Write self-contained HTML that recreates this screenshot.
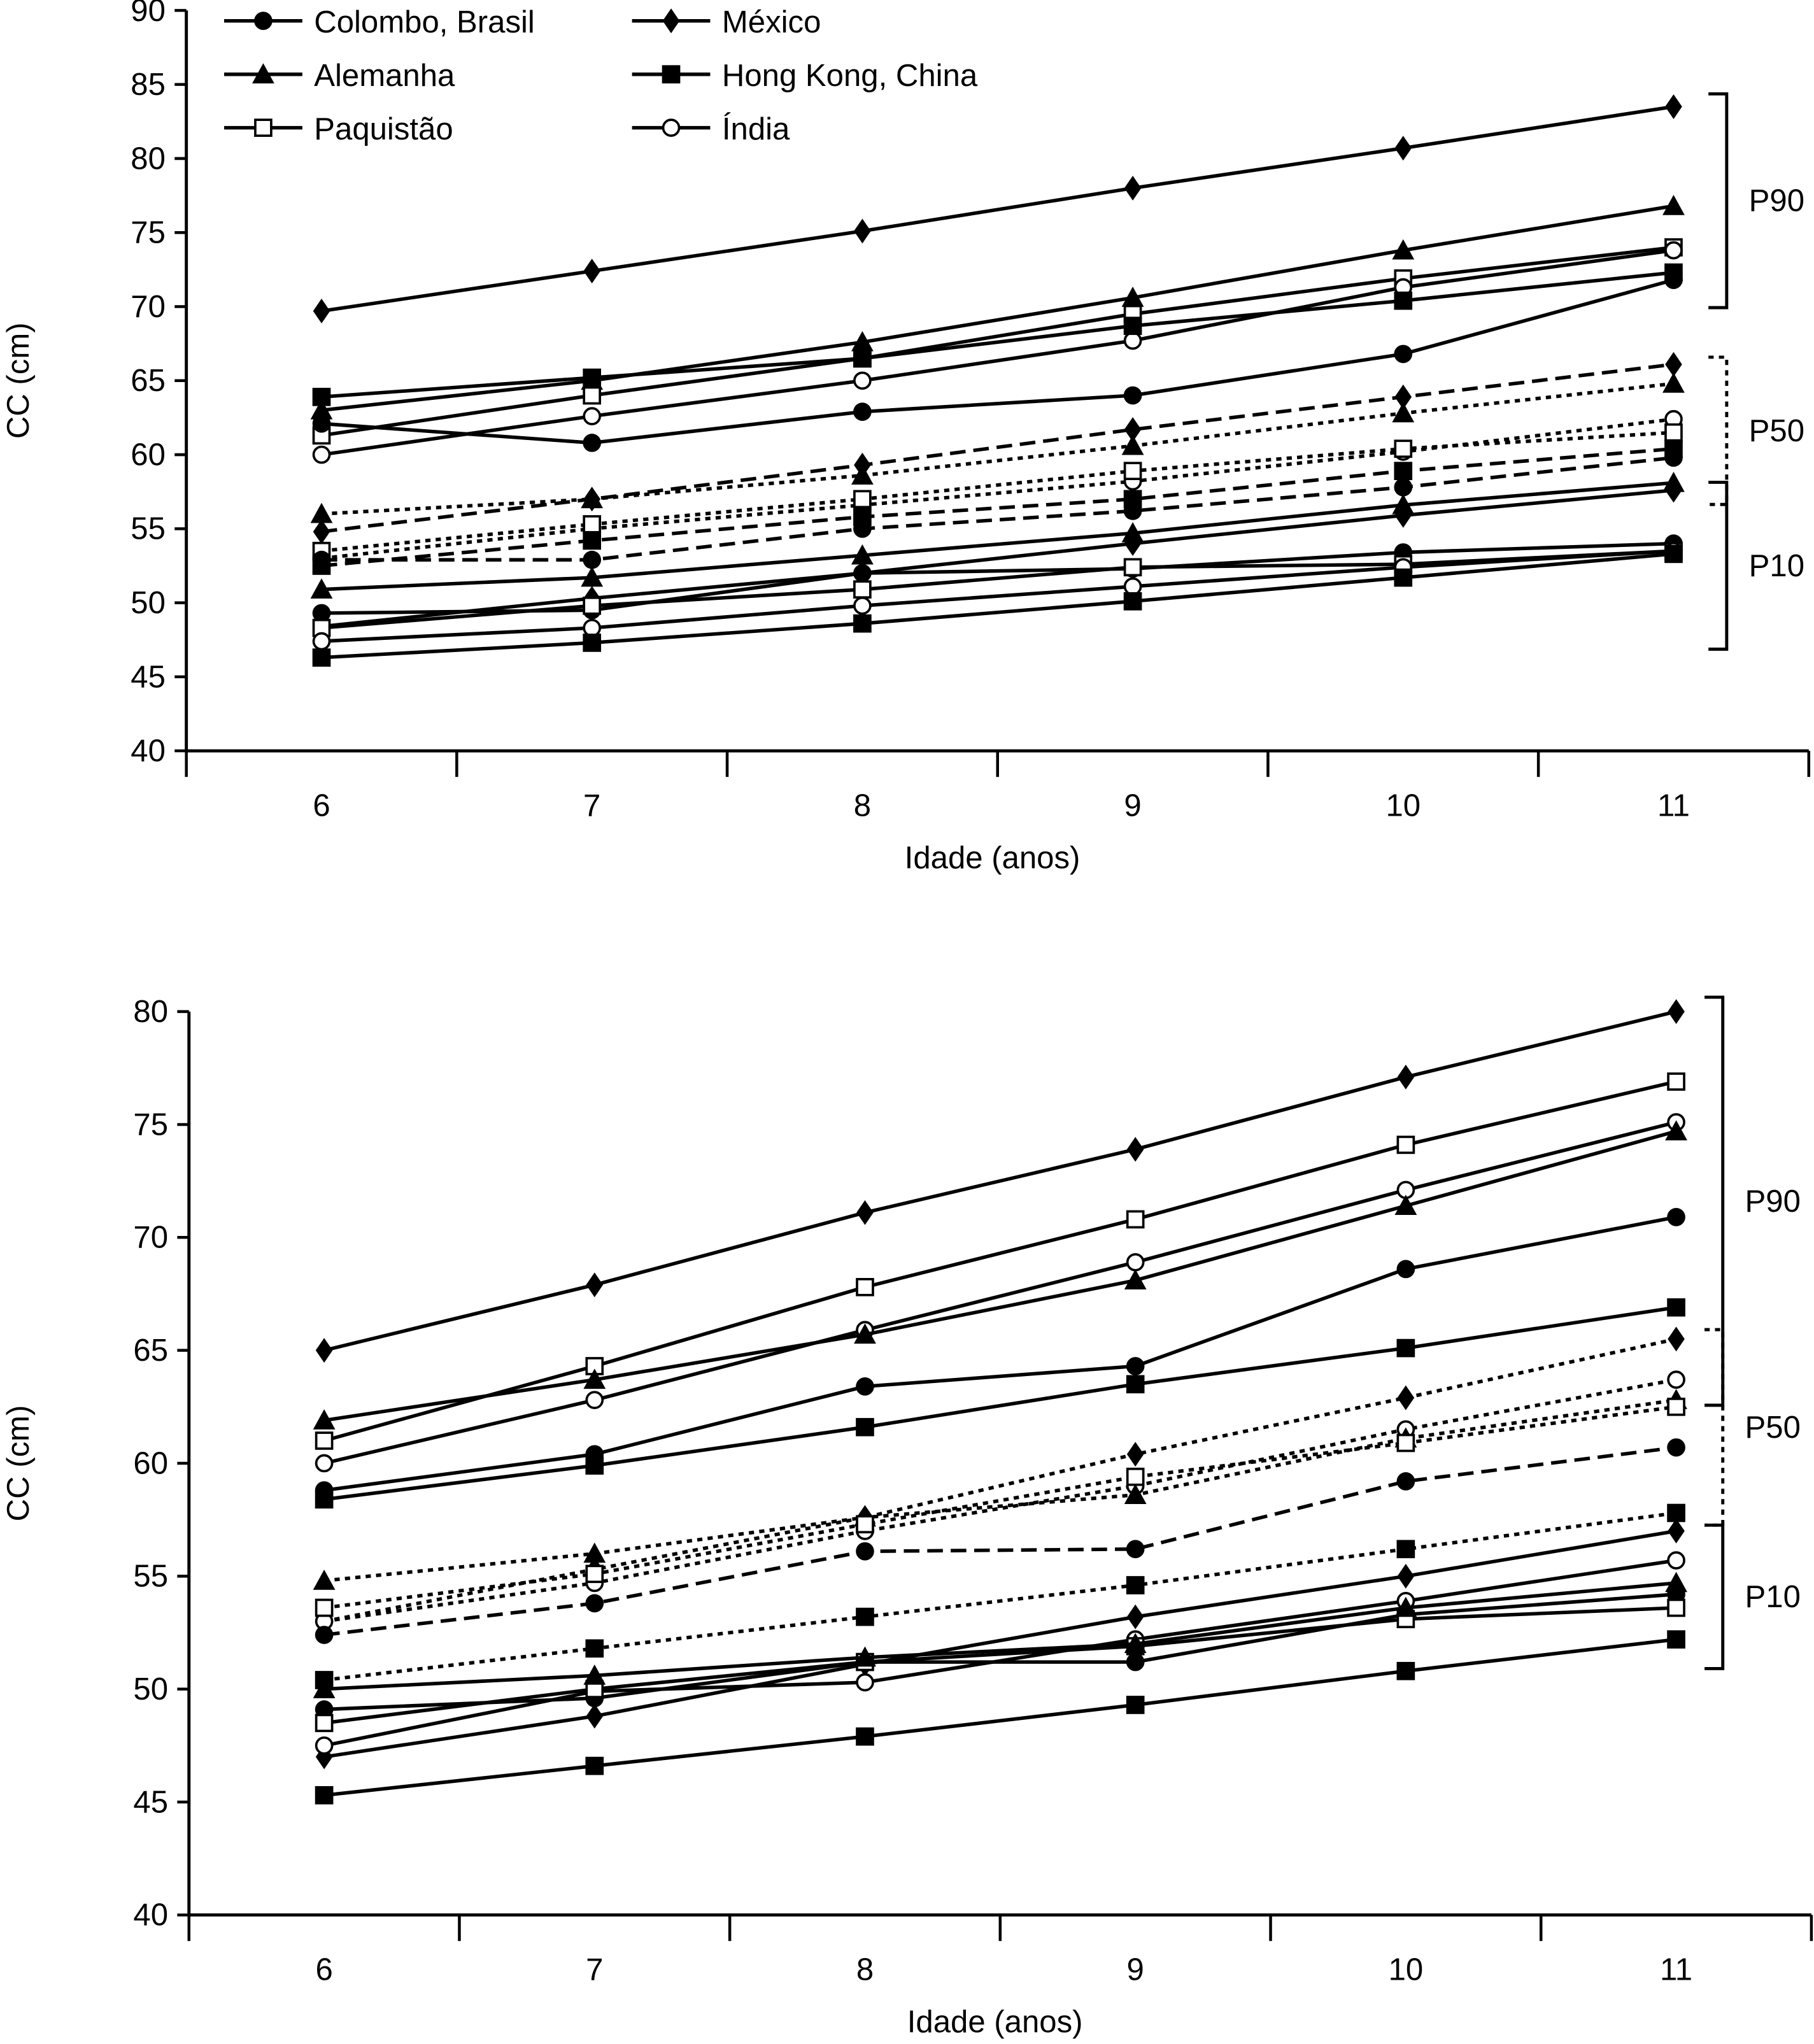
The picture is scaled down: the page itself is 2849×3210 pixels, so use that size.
<!DOCTYPE html>
<html><head><meta charset="utf-8"><style>
html,body{margin:0;padding:0;background:#fff}
svg{display:block}
text{font-family:"Liberation Sans",Arial,sans-serif;fill:#000}
</style></head><body>
<svg id="chart" width="2849" height="3210" viewBox="0 0 1392 1568" preserveAspectRatio="none" xmlns="http://www.w3.org/2000/svg"></svg>
<script>
const ages = ["6","7","8","9","10","11"];
const countries = ["Colombo, Brasil","Alemanha","Paquistão","México","Hong Kong, China","Índia"];
const markers = ["circle","triangle","opensquare","diamond","square","opencircle"];
const topP90 = [[3,[69.7,72.4,75.1,78,80.7,83.5]],[1,[63,65,67.6,70.6,73.8,76.8]],[2,[61.3,64,66.5,69.5,71.9,74]],[5,[60,62.6,65,67.7,71.3,73.8]],[4,[63.9,65.2,66.5,68.7,70.4,72.3]],[0,[62.1,60.8,62.9,64,66.8,71.8]]];
const topP50 = [[3,"dash",[54.8,57,59.3,61.7,63.9,66.1]],[1,"dot",[56,57,58.6,60.6,62.8,64.8]],[5,"dot",[53,55,56.6,58.2,60.2,62.4]],[2,"dot",[53.5,55.3,57,58.9,60.4,61.5]],[4,"dash",[52.5,54.2,55.8,57,58.9,60.4]],[0,"dash",[52.9,52.9,55,56.2,57.8,59.8]]];
const topP10 = [[1,[50.9,51.7,53.2,54.7,56.6,58.1]],[3,[48.4,50.3,52,54,55.9,57.6]],[0,[49.3,49.5,52,52.3,53.4,54]],[2,[48.3,49.8,50.9,52.4,52.6,53.5]],[5,[47.4,48.3,49.8,51.1,52.4,53.5]],[4,[46.3,47.3,48.6,50.1,51.7,53.3]]];
const botP90 = [[3,[65,67.9,71.1,73.9,77.1,80]],[2,[61,64.3,67.8,70.8,74.1,76.9]],[5,[60,62.8,65.9,68.9,72.1,75.1]],[1,[61.9,63.7,65.7,68.1,71.4,74.7]],[0,[58.8,60.4,63.4,64.3,68.6,70.9]],[4,[58.4,59.9,61.6,63.5,65.1,66.9]]];
const botP50 = [[3,"dot",[53,55.3,57.6,60.4,62.9,65.5]],[5,"dot",[53,54.7,57,59,61.5,63.7]],[1,"dot",[54.8,56,57.6,58.6,61.1,62.8]],[2,"dot",[53.6,55.1,57.3,59.4,60.9,62.5]],[0,"dash",[52.4,53.8,56.1,56.2,59.2,60.7]],[4,"dot",[50.4,51.8,53.2,54.6,56.2,57.8]]];
const botP10 = [[3,[47,48.8,51.1,53.2,55,57]],[5,[47.5,49.9,50.3,52.2,53.9,55.7]],[0,[49.1,49.6,51.2,51.2,53.3,54.2]],[2,[48.5,50,51.2,51.9,53.1,53.6]],[1,[50,50.6,51.4,52,53.6,54.7]],[4,[45.3,46.6,47.9,49.3,50.8,52.2]]];
const topTicks=[40,45,50,55,60,65,70,75,80,85,90];
const botTicks=[40,45,50,55,60,65,70,75,80];

const NS="http://www.w3.org/2000/svg";
const svg=document.getElementById("chart");
function el(tag,attrs,parent){const e=document.createElementNS(NS,tag);for(const k in attrs)e.setAttribute(k,attrs[k]);(parent||svg).appendChild(e);return e;}
function txt(x,y,s,anchor,size,parent){const t=el("text",{x:x,y:y,"text-anchor":anchor,"font-size":size||24},parent);t.textContent=s;return t;}
function marker(g,type,x,y){
  const r=7;let m;
  if(type==="circle")m=el("circle",{cx:x,cy:y,r:r,fill:"#000"},g);
  else if(type==="opencircle")m=el("circle",{cx:x,cy:y,r:r-0.9,fill:"#fff",stroke:"#000","stroke-width":1.8},g);
  else if(type==="square")m=el("rect",{x:x-r,y:y-r,width:2*r,height:2*r,fill:"#000"},g);
  else if(type==="opensquare")m=el("rect",{x:x-r+0.9,y:y-r+0.9,width:2*r-1.8,height:2*r-1.8,fill:"#fff",stroke:"#000","stroke-width":1.8},g);
  else if(type==="triangle")m=el("polygon",{points:`${x},${y-8.5} ${x+8.5},${y+7} ${x-8.5},${y+7}`,fill:"#000"},g);
  else m=el("polygon",{points:`${x},${y-9.5} ${x+6.5},${y} ${x},${y+9.5} ${x-6.5},${y}`,fill:"#000"},g);
  
  
}
function chart(name,x0,x1,yTop,yBot,vMin,vMax,ticks,groups,brackets){
  const g=el("g",{});
  
  
  const ys=v=>yBot-(v-vMin)/(vMax-vMin)*(yBot-yTop);
  const bw=(x1-x0)/ages.length;
  const xs=i=>x0+bw*(i+0.5);
  const ax=el("path",{d:`M${x0},${yTop} V${yBot} H${x1}`,fill:"none",stroke:"#000","stroke-width":2.4},g);
  
  ticks.forEach(t=>{el("line",{x1:x0-9,x2:x0,y1:ys(t),y2:ys(t),stroke:"#000","stroke-width":2.2},g);
    const l=txt(x0-16,ys(t)+8,String(t),"end",24,g);});
  for(let i=0;i<=ages.length;i++)el("line",{x1:x0+bw*i,x2:x0+bw*i,y1:yBot,y2:yBot+20,stroke:"#000","stroke-width":2.2},g);
  ages.forEach((a,i)=>{const l=txt(xs(i),yBot+50,a,"middle",24,g);});
  const xt=txt((x0+x1)/2-4,yBot+90,"Idade (anos)","middle",24,g);
  const yt=txt(0,0,"CC (cm)","middle",24,g);yt.setAttribute("transform",`translate(22,${(yTop+yBot)/2}) rotate(-90)`);
  
  groups.forEach(gr=>gr.forEach(s=>{
    const ci=s[0];const style=s.length===3?s[1]:"solid";const vals=s[s.length-1];
    const d=vals.map((v,i)=>(i?"L":"M")+xs(i)+","+ys(v)).join(" ");
    const p=el("path",{d:d,fill:"none",stroke:"#000","stroke-width":2.7});
    if(style==="dash")p.setAttribute("stroke-dasharray","12,6");
    if(style==="dot")p.setAttribute("stroke-dasharray","4,4");
    g.appendChild(p);
    
    vals.forEach((v,i)=>marker(g,markers[ci],xs(i),ys(v)));
  }));
  brackets.forEach(b=>{
    const p=el("path",{d:`M${b.x-14},${b.y1} H${b.x} V${b.y2} H${b.x-14}`,fill:"none",stroke:"#000","stroke-width":2.4},g);
    if(b.dot)p.setAttribute("stroke-dasharray","4,4");
    
    const l=txt(b.x+17,(b.y1+b.y2)/2+8,b.label,"start",24,g);
    
  });
}
chart("top-chart",143,1388,8,576,40,90,topTicks,[topP50,topP90,topP10],[
 {x:1325,y1:72,y2:236,label:"P90"},{x:1325,y1:274,y2:387,label:"P50",dot:true},{x:1325,y1:370,y2:498,label:"P10"}]);
chart("bottom-chart",145,1390,776,1469,40,80,botTicks,[botP50,botP90,botP10],[
 {x:1322,y1:765,y2:1078,label:"P90"},{x:1322,y1:1020,y2:1170,label:"P50",dot:true},{x:1322,y1:1170,y2:1280,label:"P10"}]);
const lg=el("g",{});


const order=[[0,172,16],[1,172,57],[2,172,98],[3,485,16],[4,485,57],[5,485,98]];
order.forEach(o=>{
  const e=el("g",{},lg);
  
  
  el("line",{x1:o[1],x2:o[1]+60,y1:o[2],y2:o[2],stroke:"#000","stroke-width":2.7},e);
  marker(e,markers[o[0]],o[1]+30,o[2]);
  txt(o[1]+69,o[2]+9,countries[o[0]],"start",24,e);
});
</script>
</body></html>
